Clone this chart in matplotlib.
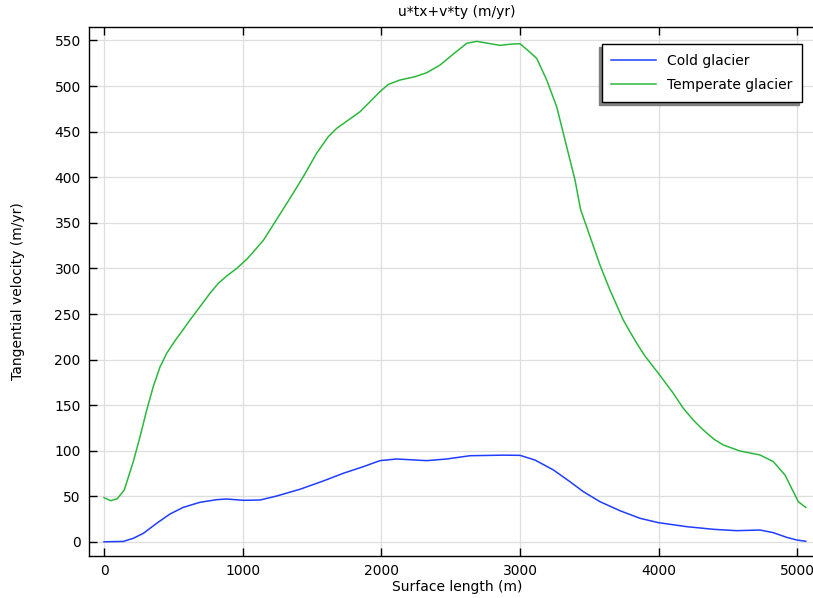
import matplotlib
matplotlib.use("Agg")
import matplotlib.pyplot as plt

# Temperate glacier (green)
temp_x = [0, 48, 96, 146, 211, 260, 308, 355, 404, 452, 512, 560, 620, 692, 764,
          824, 885, 957, 1029, 1089, 1150, 1250, 1341, 1437, 1533, 1617, 1678, 1762,
          1846, 1918, 1990, 2050, 2134, 2242, 2327, 2423, 2518, 2615, 2687, 2771,
          2855, 2939, 2999, 3059, 3120, 3192, 3264, 3336, 3396, 3436, 3492, 3576,
          3648, 3700, 3744, 3800, 3841, 3900, 3997, 4100, 4177, 4250, 4321, 4400,
          4465, 4585, 4730, 4826, 4910, 5006, 5059]
temp_v = [48.6, 45.3, 47.5, 57, 88, 115.5, 144.7, 170.3, 192, 206.9, 220.7, 230.6,
          243.4, 258, 272.7, 283.6, 291.7, 300, 310, 320.2, 331, 355, 376.8, 400.6,
          426.2, 444.4, 453.6, 462.7, 471.8, 482.8, 493.8, 501.8, 506.6, 510.2, 514.6,
          523, 535, 546.8, 549, 546.8, 544.6, 546, 546.4, 538.7, 530.3, 506.6, 477.3,
          433.5, 397, 364.8, 340.3, 303.7, 276.3, 258.5, 243.4, 228.5, 217.9, 204,
          185, 164, 146.6, 133.5, 122.8, 112.5, 106.4, 99.8, 95.4, 88.1, 73.5, 44.2,
          38]

# Cold glacier (blue)
cold_x = [0, 139, 211, 284, 380, 476, 572, 692, 812, 885, 1004, 1125, 1245, 1413,
          1581, 1725, 1870, 1990, 2110, 2327, 2471, 2639, 2879, 2999, 3107, 3240,
          3360, 3456, 3576, 3720, 3864, 3997, 4201, 4393, 4561, 4730, 4826, 4922,
          4994, 5059]
cold_v = [0.2, 0.6, 4, 9.5, 20.5, 30.7, 38, 43.5, 46.4, 47.1, 45.7, 46, 50.4, 57.8,
          66.9, 75.3, 82.6, 89.2, 91, 89.2, 91, 94.6, 95.2, 95, 89.9, 79, 66.1, 55.2,
          44.2, 34.3, 26, 21.2, 16.8, 13.9, 12.4, 13.1, 10.2, 5.1, 2.2, 0.8]

xticks = [0, 1000, 2000, 3000, 4000, 5000]
yticks = list(range(0, 551, 50))

fig = plt.figure(figsize=(8.13, 5.98), dpi=100)
ax = fig.add_axes([0.1095, 0.0702, 0.9055, 0.8846])

ax.plot(cold_x, cold_v, color="#1f3dff", lw=1.1, label="Cold glacier")
ax.plot(temp_x, temp_v, color="#2cb83c", lw=1.1, label="Temperate glacier")

ax.set_xlim(-108, 5200)
ax.set_ylim(-15.4, 564.7)
ax.set_xticks(xticks)
ax.set_yticks(yticks)
ax.grid(True, color="#dedede", lw=0.9)
ax.set_axisbelow(True)

ax.tick_params(direction="in", length=6, width=1, labelsize=10, pad=6)
ax.tick_params(axis="x", top=True)
for sp in ax.spines.values():
    sp.set_linewidth(1)

ax.set_title("u*tx+v*ty (m/yr)", fontsize=10, pad=8)
ax.set_xlabel("Surface length (m)", fontsize=10, labelpad=1)
ax.set_ylabel("Tangential velocity (m/yr)", fontsize=10, labelpad=21)

leg = ax.legend(loc="upper right", bbox_to_anchor=(0.9865, 0.9264),
                bbox_transform=fig.transFigure, borderaxespad=0, fancybox=False,
                edgecolor="black", framealpha=1, fontsize=10, handlelength=3.2,
                labelspacing=0.75, borderpad=0.7,
                shadow={"ox": -2, "oy": -2, "color": "#808080", "alpha": 1})
leg.get_frame().set_linewidth(1)

fig.savefig("out.png", dpi=100)
